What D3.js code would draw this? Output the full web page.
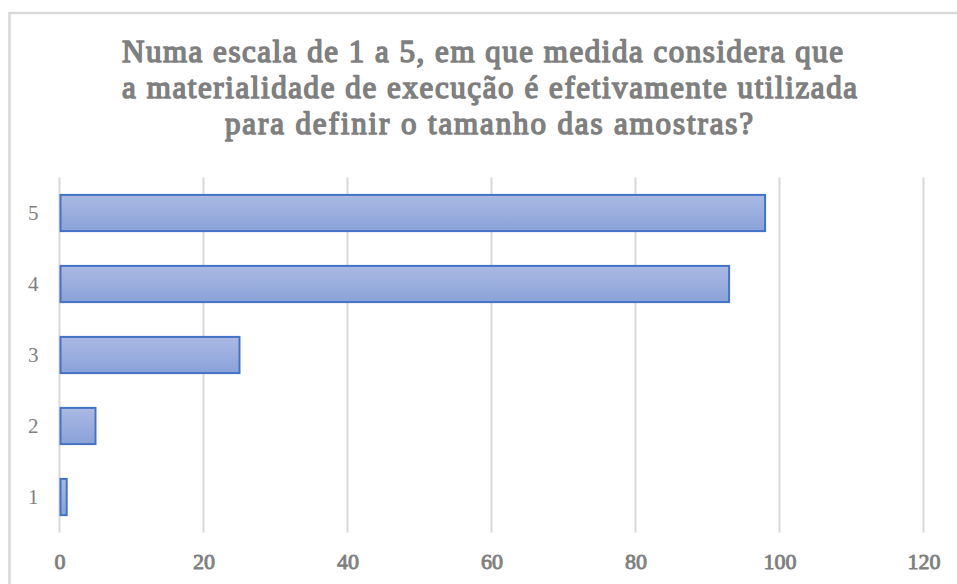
<!DOCTYPE html>
<html>
<head>
<meta charset="utf-8">
<script src="https://cdn.jsdelivr.net/npm/d3@7"></script>
<style>
  body { margin: 0; background: #fff; }
  svg { display: block; }
</style>
</head>
<body>
<div id="chart"></div>
<script>
// Chart data
const titleLines = [
    "Numa escala de 1 a 5, em que medida considera que",
    "a materialidade de execução é efetivamente utilizada",
    "para definir o tamanho das amostras?"
];
const categories = ["5", "4", "3", "2", "1"];
const values = [98, 93, 25, 5, 1];
const xTicks = [0, 20, 40, 60, 80, 100, 120];

function createChart() {
    const width = 957;
    const height = 584;
    const plot = { left: 59.5, right: 923.5, top: 177.5, bottom: 532.5 };
    const serif = "Liberation Serif, Times New Roman, serif";

    const svg = d3.select("#chart")
        .append("svg")
        .attr("width", width)
        .attr("height", height);

    // Gradient for bars
    const grad = svg.append("defs").append("linearGradient")
        .attr("id", "barFill")
        .attr("x1", 0).attr("y1", 0).attr("x2", 0).attr("y2", 1);
    grad.append("stop").attr("offset", "0%").attr("stop-color", "#aab9e3");
    grad.append("stop").attr("offset", "100%").attr("stop-color", "#8aa2d9");

    // Chart border
    svg.append("rect")
        .attr("x", 9.5)
        .attr("y", 13)
        .attr("width", width)
        .attr("height", height)
        .attr("fill", "#fff")
        .attr("stroke", "#d9d9d9")
        .attr("stroke-width", 2.5);

    // Title (bold look via stroke, the bold serif face isn't available)
    const titleX = [122, 122, 225];
    const titleW = [721, 735, 528];
    svg.append("g")
        .selectAll("text")
        .data(titleLines)
        .enter()
        .append("text")
        .attr("x", (d, i) => titleX[i])
        .attr("y", (d, i) => 61.5 + i * 36)
        .attr("textLength", (d, i) => titleW[i])
        .attr("lengthAdjust", "spacing")
        .attr("font-family", serif)
        .attr("font-size", 31)
        .attr("fill", "#7f7f7f")
        .attr("stroke", "#7f7f7f")
        .attr("stroke-width", 1.5)
        .attr("stroke-linejoin", "round")
        .text(d => d);

    const x = d3.scaleLinear()
        .domain([0, 120])
        .range([plot.left, plot.right]);

    const y = d3.scaleBand()
        .domain(categories)
        .range([plot.top, plot.bottom])
        .paddingInner(0.49)
        .paddingOuter(0.245);

    // Vertical gridlines
    svg.append("g")
        .selectAll("line")
        .data(xTicks)
        .enter()
        .append("line")
        .attr("x1", d => x(d))
        .attr("x2", d => x(d))
        .attr("y1", plot.top)
        .attr("y2", plot.bottom)
        .attr("stroke", "#d9d9d9")
        .attr("stroke-width", 2);

    // Bars
    svg.append("g")
        .selectAll("rect")
        .data(values)
        .enter()
        .append("rect")
        .attr("x", x(0) + 1)
        .attr("y", (d, i) => y(categories[i]))
        .attr("width", d => x(d) - x(0) - 1)
        .attr("height", y.bandwidth())
        .attr("fill", "url(#barFill)")
        .attr("stroke", "#4472c4")
        .attr("stroke-width", 2);

    // X axis labels
    const xAxis = svg.append("g")
        .attr("transform", `translate(0,${plot.bottom})`)
        .call(d3.axisBottom(x).tickValues(xTicks).tickSize(0).tickPadding(36));
    xAxis.select(".domain").remove();
    xAxis.selectAll("text")
        .attr("font-family", serif)
        .attr("font-size", 22)
        .attr("fill", "#7f7f7f")
        .attr("stroke", "#7f7f7f")
        .attr("stroke-width", 0.9)
        .attr("stroke-linejoin", "round")
        .attr("dy", "0");

    // Y axis labels
    const yAxis = svg.append("g")
        .attr("transform", `translate(${plot.left},0)`)
        .call(d3.axisLeft(y).tickSize(0).tickPadding(21));
    yAxis.select(".domain").remove();
    yAxis.selectAll("text")
        .attr("font-family", serif)
        .attr("font-size", 21)
        .attr("fill", "#7f7f7f");
}

document.addEventListener('DOMContentLoaded', createChart);
</script>
</body>
</html>
